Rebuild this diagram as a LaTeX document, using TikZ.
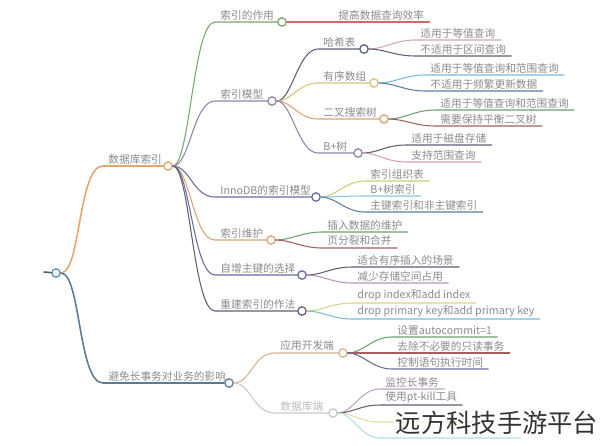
\documentclass[tikz,border=0pt]{standalone}
\usepackage{fontspec}
\usepackage{xcolor}
\usepackage{tikz}
\newfontfamily\cjk{Noto Sans CJK SC}
\definecolor{txt}{HTML}{8A8A8A}
\definecolor{txtfade}{HTML}{BCBCBC}
\definecolor{wm}{HTML}{333333}
\definecolor{trunk}{HTML}{3F5F78}
\definecolor{rootc}{HTML}{5B8DB5}
\definecolor{orgA}{HTML}{E9A46B}
\definecolor{blueB}{HTML}{5B7A93}
\definecolor{grn}{HTML}{78A86A}
\definecolor{red}{HTML}{D06A6A}
\definecolor{purp}{HTML}{8C86AA}
\definecolor{slate}{HTML}{5A6078}
\definecolor{yel}{HTML}{D8C27A}
\definecolor{amber}{HTML}{D9A572}
\definecolor{pink}{HTML}{D4A2B4}
\definecolor{sky}{HTML}{78BCD8}
\definecolor{steel}{HTML}{5A7CA0}
\definecolor{dgreen}{HTML}{6AA06A}
\definecolor{brick}{HTML}{A45E5E}
\definecolor{dgrey}{HTML}{5E6070}
\definecolor{lime}{HTML}{C9D070}
\definecolor{teal}{HTML}{86CCD0}
\definecolor{indigo}{HTML}{6A6AA2}
\definecolor{lilac}{HTML}{B894BC}
\definecolor{sand}{HTML}{D8D288}
\definecolor{tan}{HTML}{D8B28E}
\definecolor{fade}{HTML}{CFC6C6}
\definecolor{mauve}{HTML}{BBA4C2}
\definecolor{butter}{HTML}{E4DCA4}
\definecolor{ice}{HTML}{B4DCEA}
\tikzset{
  dot/.style={circle, draw, fill=white, line width=0.9pt, inner sep=0pt, minimum size=2.1mm},
  lab/.style={anchor=south west, text=txt, font=\cjk\fontsize{7.6}{9}\selectfont, inner xsep=1.3mm, inner ysep=0.45mm},
  br/.style={line width=0.75pt, line cap=round},
  thick br/.style={line width=1.1pt, line cap=round},
}

\begin{document}
\begin{tikzpicture}[x=0.25mm, y=-0.25mm]
  \useasboundingbox (0,0) rectangle (600,445);
  % root
  \coordinate (stub) at (44,272);
  \node[dot, draw=rootc] (root) at (56,273) {};
  \draw[thick br, draw=trunk] (stub) -- (root);

  % first level
  \node[dot, draw=orgA] (dbidx) at (168,166) {};
  \node[lab] (dbidx-t) at (103,166) {数据库索引};
  \draw[thick br, draw=orgA] (root) .. controls +(25,0) and +(-25,0) .. (dbidx-t.south west) -- (dbidx);
  \node[dot, draw=blueB] (longtx) at (229,383) {};
  \node[lab] (longtx-t) at (103,383) {避免长事务对业务的影响};
  \draw[thick br, draw=blueB] (root) .. controls +(25,0) and +(-25,0) .. (longtx-t.south west) -- (longtx);

  % second level: index
  \foreach \n/\x/\y/\t/\c in {idxuse/282/22/索引的作用/grn, idxmodel/272/101/索引模型/purp,
      innodb/316/197/InnoDB的索引模型/indigo, idxmaint/271/240/索引维护/amber,
      autoinc/302/275/自增主键的选择/indigo, rebuild/302/311/重建索引的作法/slate}
  {
    \node[dot, draw=\c] (\n) at (\x,\y) {};
    \node[lab] (\n-t) at (215,\y) {\t};
    \draw[br, draw=\c] (dbidx) .. controls +(22,0) and +(-22,0) .. (\n-t.south west) -- (\n);
  }

  % second level: long transactions
  \foreach \n/\x/\y/\t/\c/\f in {appside/343/353/应用开发端/tan/txt, dbside/333/413/数据库端/fade/txtfade}
  {
    \node[dot, draw=\c] (\n) at (\x,\y) {};
    \node[lab, text=\f] (\n-t) at (275,\y) {\t};
    \draw[br, draw=\c] (longtx) .. controls +(22,0) and +(-22,0) .. (\n-t.south west) -- (\n);
  }

  % third level: index models
  \foreach \n/\x/\y/\t/\c in {hash/364/49/哈希表/slate, sorted/374/83/有序数组/yel,
      bst/384/119/二叉搜索树/amber, bplus/358/153/B+树/purp}
  {
    \node[dot, draw=\c] (\n) at (\x,\y) {};
    \node[lab] (\n-t) at (318,\y) {\t};
    \draw[br, draw=\c] (idxmodel) .. controls +(20,0) and +(-20,0) .. (\n-t.south west) -- (\n);
  }

  % leaves
  \node[lab] (idxuse-1) at (333,22) {提高数据查询效率};
  \draw[br, draw=red] (idxuse) -- (idxuse-1.south east);

  \foreach \p/\n/\x/\y/\t/\c in {hash/1/415/40/适用于等值查询/pink, hash/2/415/56/不适用于区间查询/dgrey,
      sorted/1/425/75/适用于等值查询和范围查询/sky, sorted/2/425/91/不适用于频繁更新数据/steel,
      bst/1/435/110/适用于等值查询和范围查询/dgreen, bst/2/435/126/需要保持平衡二叉树/brick,
      bplus/1/406/145/适用于磁盘存储/dgrey, bplus/2/406/162/支持范围查询/pink,
      innodb/1/365/181/索引组织表/lime, innodb/2/365/196/B+树索引/teal,
      innodb/3/365/212/主键索引和非主键索引/steel,
      idxmaint/1/322/232/插入数据的维护/dgreen, idxmaint/2/322/248/页分裂和合并/brick,
      autoinc/1/352/267/适合有序插入的场景/dgrey, autoinc/2/352/283/减少存储空间占用/lilac,
      rebuild/1/352/303/drop index和add index/sand,
      rebuild/2/352/319/drop primary key和add primary key/sky,
      appside/1/392/337/设置autocommit=1/dgreen, appside/2/392/353/去除不必要的只读事务/brick,
      appside/3/392/369/控制语句执行时间/indigo,
      dbside/1/380/389/监控长事务/mauve, dbside/2/380/405/使用pt-kill工具/dgrey}
  {
    \node[lab] (\p-\n) at (\x,\y) {\t};
    \draw[br, draw=\c] (\p) .. controls +(20,0) and +(-20,0) .. (\p-\n.south west) -- (\p-\n.south east);
  }
  \node[lab, minimum width=23mm] (dbside-3) at (380,422) {};
  \draw[br, draw=butter] (dbside) .. controls +(20,0) and +(-20,0) .. (dbside-3.south west) -- (dbside-3.south east);
  \node[lab, minimum width=35mm] (dbside-4) at (380,438) {};
  \draw[br, draw=ice] (dbside) .. controls +(20,0) and +(-20,0) .. (dbside-4.south west) -- (dbside-4.south east);

  % watermark
  \node[font=\cjk\fontsize{18}{20}\selectfont, text=wm, fill=white, fill opacity=0.55,
    text opacity=1, inner sep=0.6mm] (mark) at (497,423) {远方科技手游平台};
\end{tikzpicture}
\end{document}
